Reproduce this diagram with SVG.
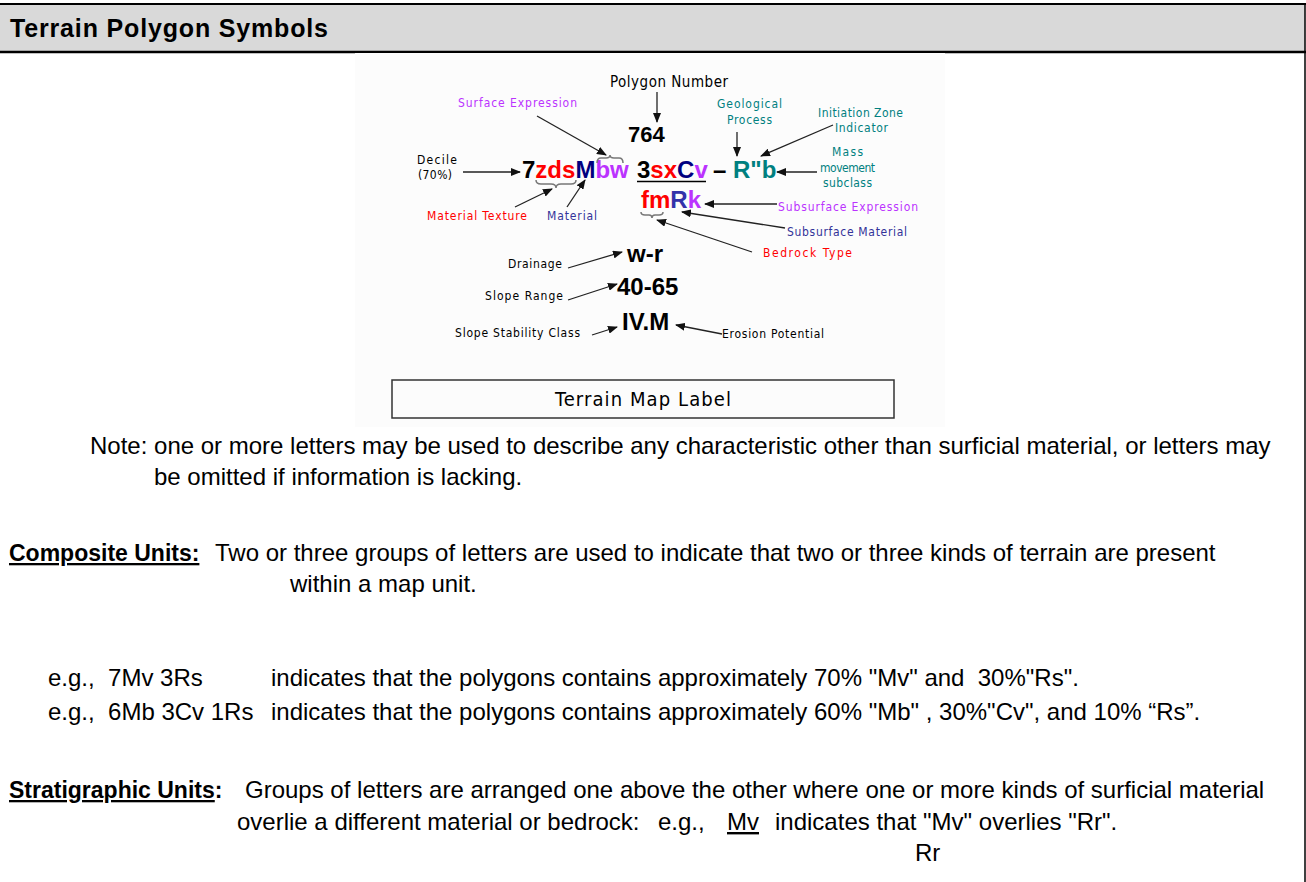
<svg xmlns="http://www.w3.org/2000/svg" width="1306" height="882" viewBox="0 0 1306 882">
<defs>
<marker id="ah" markerWidth="10" markerHeight="8" refX="9" refY="4" orient="auto" markerUnits="userSpaceOnUse"><path d="M0,0 L10,4 L0,8 Z" fill="#111"/></marker>
<style>
.body{font-family:"Liberation Sans",Arial,sans-serif;font-size:24px;fill:#000;white-space:pre}
.b{font-weight:bold;font-size:23px}
.hw{font-family:"DejaVu Sans Condensed","DejaVu Sans",sans-serif;font-size:12px;fill:#000}
.sym{font-family:"Liberation Sans",Arial,sans-serif;font-weight:bold;font-size:24px;fill:#000}
.conn line{stroke:#222;stroke-width:1.3;fill:none;marker-end:url(#ah)}
.brace{stroke:#777;stroke-width:1.5;fill:none}
.red{fill:#ff0000}.navy{fill:#000080}.mag{fill:#bb33ff}.teal{fill:#008080}.blu{fill:#333399}
</style>
</defs>
<rect x="0" y="0" width="1306" height="882" fill="#fff"/>
<g id="header">
<rect x="0" y="4" width="1305" height="48" fill="#d9d9d9"/>
<line x1="0" y1="4" x2="1306" y2="4" stroke="#000" stroke-width="2"/>
<line x1="0" y1="52" x2="1306" y2="52" stroke="#000" stroke-width="2.5"/>
<text x="10" y="37" class="body b" style="font-size:25px" textLength="318">Terrain Polygon Symbols</text>
</g>
<line x1="1305" y1="4" x2="1305" y2="882" stroke="#000" stroke-width="1.5"/>
<g id="figure">
<rect x="355" y="53" width="590" height="374" fill="#fcfcfc"/>
<g id="polygon-number"><text class="hw" x="610" y="87" style="font-size:15px" textLength="118">Polygon Number</text></g>
<g id="n764"><text class="sym" x="628" y="142" style="font-size:22px">764</text></g>
<g id="surface-expression"><text class="hw mag" x="458" y="107" textLength="119">Surface Expression</text></g>
<g id="decile"><text class="hw" x="417" y="164" textLength="40">Decile</text><text class="hw" x="418" y="179" textLength="34">(70%)</text></g>
<g id="symbol-main"><text class="sym" x="522" y="178">7<tspan class="red">zds</tspan><tspan class="navy">M</tspan><tspan class="mag">bw</tspan></text></g>
<g id="symbol-2"><text class="sym" x="637" y="178">3<tspan class="red">sx</tspan><tspan class="navy">C</tspan><tspan class="mag">v</tspan></text>
<line x1="637" y1="181.5" x2="706" y2="181.5" stroke="#000" stroke-width="1.5"/></g>
<g id="dash"><text class="sym" x="713" y="178">–</text></g>
<g id="symbol-3"><text class="sym teal" x="733" y="178">R"b</text></g>
<g id="geological"><text class="hw teal" x="717" y="108" textLength="65">Geological</text><text class="hw teal" x="727" y="124" textLength="45">Process</text></g>
<g id="initiation"><text class="hw teal" x="818" y="117" textLength="85">Initiation Zone</text><text class="hw teal" x="835" y="132" textLength="53">Indicator</text></g>
<g id="mass"><text class="hw teal" x="832" y="156" textLength="31">Mass</text><text class="hw teal" x="820" y="172" textLength="55">movement</text><text class="hw teal" x="823" y="187" textLength="49">subclass</text></g>
<g id="material-texture"><text class="hw red" x="427" y="220" textLength="100">Material Texture</text></g>
<g id="material"><text class="hw blu" x="547" y="220" textLength="50">Material</text></g>
<g id="symbol-sub"><text class="sym" x="641" y="208"><tspan class="red">fm</tspan><tspan fill="#3333aa">R</tspan><tspan class="mag">k</tspan></text></g>
<g id="subsurface-expression"><text class="hw mag" x="778" y="211" textLength="140">Subsurface Expression</text></g>
<g id="subsurface-material"><text class="hw blu" x="787" y="236" textLength="120">Subsurface Material</text></g>
<g id="bedrock"><text class="hw red" x="763" y="257" textLength="89">Bedrock Type</text></g>
<g id="drainage"><text class="hw" x="508" y="268" textLength="54">Drainage</text><text class="sym" x="627" y="262">w-r</text></g>
<g id="slope-range"><text class="hw" x="485" y="300" textLength="78">Slope Range</text><text class="sym" x="617" y="295">40-65</text></g>
<g id="stability"><text class="hw" x="455" y="337" textLength="125">Slope Stability Class</text><text class="sym" x="622" y="330">IV.M</text></g>
<g id="erosion"><text class="hw" x="722" y="338" textLength="102">Erosion Potential</text></g>
<g id="map-label"><rect x="392" y="380" width="502" height="38" fill="none" stroke="#333" stroke-width="1.5"/>
<text class="hw" x="643" y="406" style="font-size:20px" text-anchor="middle" textLength="176">Terrain Map Label</text></g>
<g id="braces">
<path class="brace" d="M597,163 Q597,158 601,158 L606,158 Q610,158 610,155 Q610,158 614,158 L619,158 Q623,158 623,163"/>
<path class="brace" d="M536,180 Q536,184 541,184 L551,184 Q556,184 556,188 Q556,184 561,184 L571,184 Q576,184 576,180"/>
<path class="brace" d="M641,212 Q641,215 645,215 L649,215 Q652,215 652,218 Q652,215 655,215 L659,215 Q663,215 663,212"/>
</g>
</g>
<g id="connectors" class="conn">
<line x1="657" y1="92" x2="657" y2="122"/>
<line x1="537" y1="116" x2="606" y2="155"/>
<line x1="463" y1="172" x2="520" y2="172"/>
<line x1="737" y1="132" x2="737" y2="156"/>
<line x1="833" y1="125" x2="761" y2="156"/>
<line x1="817" y1="172" x2="777" y2="172"/>
<line x1="515" y1="207" x2="552" y2="189"/>
<line x1="567" y1="207" x2="585" y2="180"/>
<line x1="777" y1="204" x2="705" y2="204"/>
<line x1="785" y1="228" x2="682" y2="212"/>
<line x1="752" y1="252" x2="657" y2="220"/>
<line x1="568" y1="268" x2="622" y2="252"/>
<line x1="568" y1="300" x2="617" y2="284"/>
<line x1="592" y1="335" x2="617" y2="327"/>
<line x1="722" y1="334" x2="676" y2="325"/>
</g>
<g id="note">
<text class="body" x="90" y="454">Note: one or more letters may be used to describe any characteristic other than surficial material, or letters may</text>
<text class="body" x="154" y="485">be omitted if information is lacking.</text>
</g>
<g id="composite">
<text class="body b" x="9" y="561" text-decoration="underline">Composite Units:</text>
<text class="body" x="215" y="561">Two or three groups of letters are used to indicate that two or three kinds of terrain are present</text>
<text class="body" x="290" y="592">within a map unit.</text>
</g>
<g id="examples">
<text class="body" x="48" y="686">e.g.,  7Mv 3Rs</text>
<text class="body" x="271" y="686">indicates that the polygons contains approximately 70% "Mv" and  30%"Rs".</text>
<text class="body" x="48" y="720">e.g.,  6Mb 3Cv 1Rs</text>
<text class="body" x="271" y="720">indicates that the polygons contains approximately 60% "Mb" , 30%"Cv", and 10% “Rs”.</text>
</g>
<g id="stratigraphic">
<text class="body b" x="9" y="798"><tspan text-decoration="underline">Stratigraphic Units</tspan>:</text>
<text class="body" x="245" y="798">Groups of letters are arranged one above the other where one or more kinds of surficial material</text>
<text class="body" x="237" y="830">overlie a different material or bedrock:</text>
<text class="body" x="658" y="830">e.g.,</text>
<text class="body" x="727" y="830" text-decoration="underline">Mv</text>
<text class="body" x="775" y="830">indicates that "Mv" overlies "Rr".</text>
<text class="body" x="915" y="861">Rr</text>
</g>
</svg>
